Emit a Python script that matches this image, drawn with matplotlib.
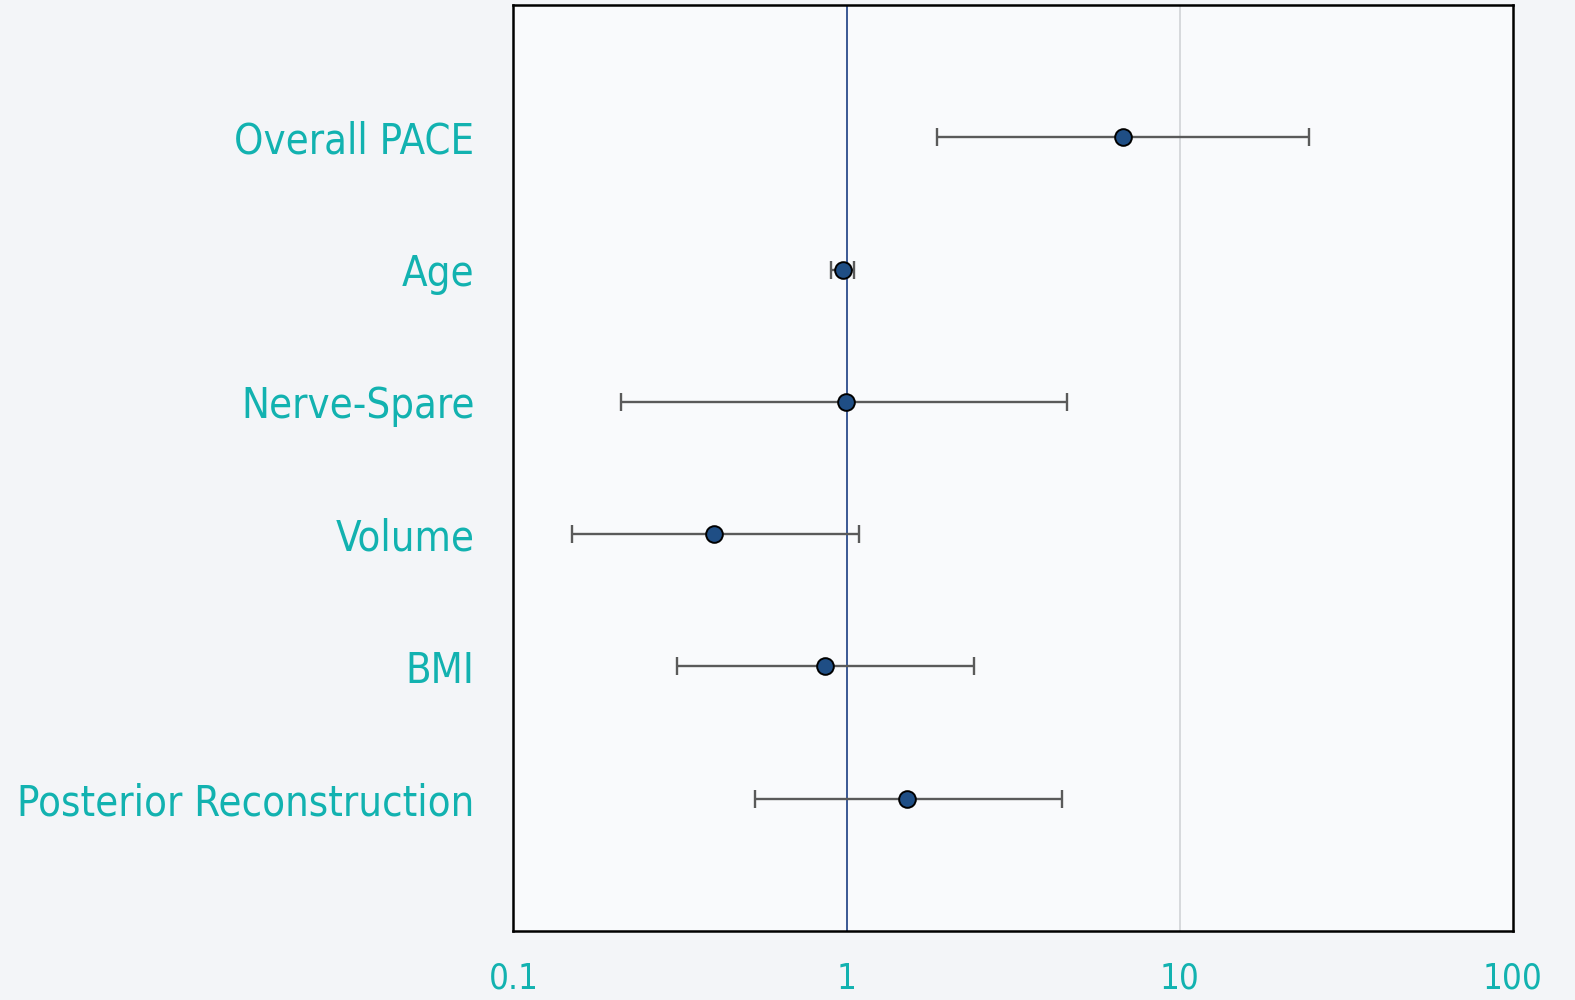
import matplotlib
matplotlib.use("Agg")
import matplotlib.pyplot as plt
import numpy as np

# Odds ratios with 95% confidence intervals
categories = ["Overall PACE", "Age", "Nerve-Spare", "Volume", "BMI",
              "Posterior Reconstruction"]
odds_ratio = [6.75, 0.977, 0.993, 0.40, 0.86, 1.52]
ci_low = [1.87, 0.90, 0.21, 0.15, 0.31, 0.53]
ci_high = [24.5, 1.05, 4.59, 1.09, 2.42, 4.43]
x_ticks = [0.1, 1, 10, 100]
x_tick_labels = ["0.1", "1", "10", "100"]

teal = "#12B2B0"
point_blue = "#1F4E85"

fig = plt.figure(figsize=(15.75, 10), dpi=100, facecolor="#F3F5F8")
ax = fig.add_axes([0.326, 0.069, 0.6345, 0.926])
ax.set_facecolor("#F9FAFC")

y = np.arange(1, len(categories) + 1)
or_arr = np.array(odds_ratio)
err = np.vstack([or_arr - np.array(ci_low), np.array(ci_high) - or_arr])

ax.axvline(1, color="#2B4C8C", lw=1.3, zorder=1)
ax.axvline(10, color="#D4D6D9", lw=1.3, zorder=1)

ax.errorbar(or_arr, y, xerr=err, fmt="none", ecolor="#5A5A5A",
            elinewidth=1.7, capsize=6.5, capthick=1.7, zorder=2)
ax.plot(or_arr, y, "o", ms=12, mfc=point_blue, mec="black", mew=1.4,
        zorder=3)

ax.set_xscale("log")
ax.set_xlim(0.1, 100)
ax.set_ylim(len(categories) + 1, 0)
ax.set_xticks(x_ticks)
ax.set_xticklabels(x_tick_labels)
ax.minorticks_off()
ax.set_yticks(y)
ax.set_yticklabels(categories)

ax.tick_params(axis="x", length=0, pad=22, labelsize=25, labelcolor=teal)
ax.tick_params(axis="y", length=0, pad=28, labelsize=30, labelcolor=teal)
for lab in ax.get_xticklabels():
    lab.set_fontstretch("condensed")
for lab in ax.get_yticklabels():
    lab.set_fontstretch("condensed")

for sp in ax.spines.values():
    sp.set_color("black")
    sp.set_linewidth(1.8)

fig.savefig("out.png", dpi=100, facecolor=fig.get_facecolor())
